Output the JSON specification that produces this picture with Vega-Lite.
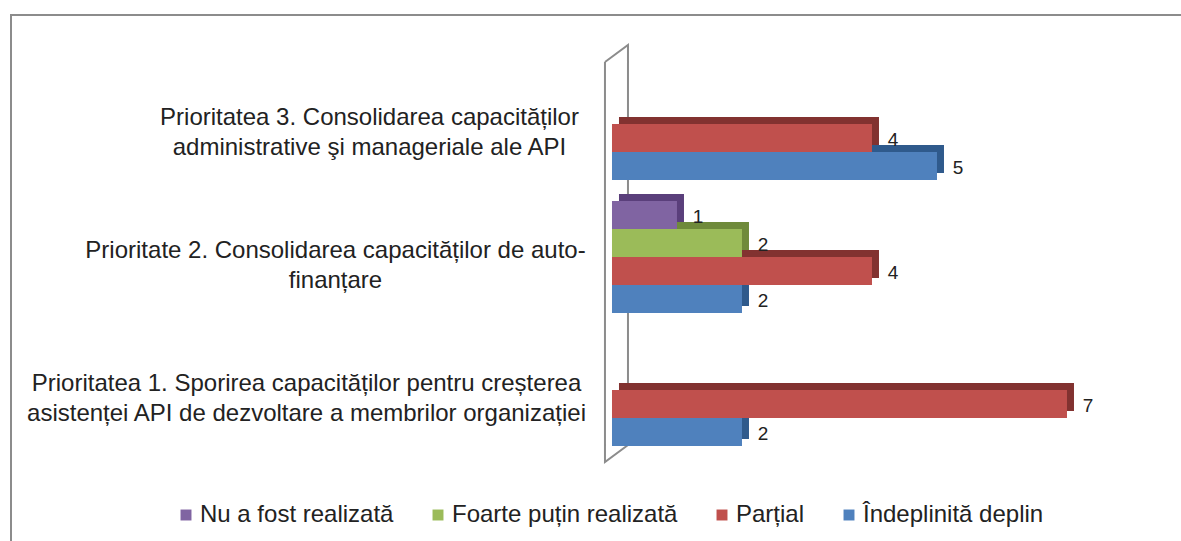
{
"$schema":"https://vega.github.io/schema/vega-lite/v6.json",
"width":1170,"height":526,
"autosize":{"type":"none"},
"padding":{"left":11,"top":15,"right":0,"bottom":0},
"background":"white",
"config":{"view":{"stroke":null},"text":{"font":"Liberation Sans"}},
"datasets":{
"bars":[
{"prioritate":"Prioritatea 3. Consolidarea capacităților\nadministrative şi manageriale ale API","status":"Parțial","n":4},
{"prioritate":"Prioritatea 3. Consolidarea capacităților\nadministrative şi manageriale ale API","status":"Îndeplinită deplin","n":5},
{"prioritate":"Prioritate 2. Consolidarea capacităților de auto-\nfinanțare","status":"Nu a fost realizată","n":1},
{"prioritate":"Prioritate 2. Consolidarea capacităților de auto-\nfinanțare","status":"Foarte puțin realizată","n":2},
{"prioritate":"Prioritate 2. Consolidarea capacităților de auto-\nfinanțare","status":"Parțial","n":4},
{"prioritate":"Prioritate 2. Consolidarea capacităților de auto-\nfinanțare","status":"Îndeplinită deplin","n":2},
{"prioritate":"Prioritatea 1. Sporirea capacităților pentru creșterea\nasistenței API de dezvoltare a membrilor organizației","status":"Parțial","n":7},
{"prioritate":"Prioritatea 1. Sporirea capacităților pentru creșterea\nasistenței API de dezvoltare a membrilor organizației","status":"Îndeplinită deplin","n":2}
],
"frame":[
{"part":"frame","k":1,"a":-9.246,"b":1},
{"part":"frame","k":2,"a":-9.246,"b":0},
{"part":"frame","k":3,"a":8.754,"b":0},
{"part":"wall","k":1,"a":-0.108,"b":0.0894},
{"part":"wall","k":2,"a":0.246,"b":0.057},
{"part":"wall","k":3,"a":0.246,"b":0.8175},
{"part":"wall","k":4,"a":-0.108,"b":0.8498},
{"part":"wall","k":5,"a":-0.108,"b":0.0894}
]},
"resolve":{"scale":{"y":"independent","color":"independent"}},
"layer":[
{"data":{"name":"frame"},
 "mark":{"type":"line","stroke":"#8c8c8c","strokeWidth":2,"clip":false},
 "encoding":{
  "x":{"field":"a","type":"quantitative","axis":null,"scale":{"domain":[-9.246,8.754],"nice":false,"zero":false}},
  "y":{"field":"b","type":"quantitative","axis":null,"scale":{"domain":[0,1],"reverse":true,"nice":false}},
  "detail":{"field":"part"},
  "order":{"field":"k"}}},
{"data":{"name":"bars"},
 "mark":{"type":"bar","xOffset":7,"x2Offset":7,"clip":false},
 "encoding":{
  "y":{"field":"prioritate","type":"nominal","axis":null,"scale":{"domain":["Prioritatea 3. Consolidarea capacităților\nadministrative şi manageriale ale API","Prioritate 2. Consolidarea capacităților de auto-\nfinanțare","Prioritatea 1. Sporirea capacităților pentru creșterea\nasistenței API de dezvoltare a membrilor organizației"],"range":[46,424],"paddingInner":0.158,"paddingOuter":0}},
  "yOffset":{"field":"status","type":"nominal","scale":{"domain":["Nu a fost realizată","Foarte puțin realizată","Parțial","Îndeplinită deplin"]}},
  "x":{"field":"n","type":"quantitative"},
  "color":{"field":"status","type":"nominal","legend":null,"scale":{"domain":["Nu a fost realizată","Foarte puțin realizată","Parțial","Îndeplinită deplin"],"range":["#5a3f7b","#6f8a3a","#823230","#2f5a8c"]}}}},
{"data":{"name":"bars"},
 "mark":{"type":"bar","clip":false},
 "encoding":{
  "y":{"field":"prioritate","type":"nominal","title":null,"sort":null,"axis":{"title":null,"domain":false,"ticks":false,"labelFont":"Liberation Sans","labelFontSize":24,"labelColor":"#222222","labelLimit":0,"labelPadding":-295,"labelAlign":"center","labelOffset":-6,"labelLineHeight":30,"labelExpr":"split(datum.label,'\\n')","encoding":{"labels":{"dx":{"value":{"expr":"indexof(datum.value,'Prioritatea 3')==0?63:indexof(datum.value,'Prioritate 2')==0?29:0"}}}}},"scale":{"domain":["Prioritatea 3. Consolidarea capacităților\nadministrative şi manageriale ale API","Prioritate 2. Consolidarea capacităților de auto-\nfinanțare","Prioritatea 1. Sporirea capacităților pentru creșterea\nasistenței API de dezvoltare a membrilor organizației"],"range":[53,431],"paddingInner":0.158,"paddingOuter":0}},
  "yOffset":{"field":"status","type":"nominal","scale":{"domain":["Nu a fost realizată","Foarte puțin realizată","Parțial","Îndeplinită deplin"]}},
  "x":{"field":"n","type":"quantitative"},
  "color":{"field":"status","type":"nominal","scale":{"domain":["Nu a fost realizată","Foarte puțin realizată","Parțial","Îndeplinită deplin"],"range":["#8064a2","#9bbb59","#c0504d","#4f81bd"]},
   "legend":{"title":null,"orient":"none","legendX":163,"legendY":488,"direction":"horizontal","columns":4,"columnPadding":32,"symbolType":"square","symbolSize":120,"symbolStrokeWidth":0,"symbolOpacity":1,"labelFont":"Liberation Sans","labelFontSize":24,"labelColor":"#222222","labelLimit":0,"labelOffset":2}}}},
{"data":{"name":"bars"},
 "mark":{"type":"text","dx":21,"dy":2,"align":"center","fontSize":19,"font":"Liberation Sans","color":"#222222","clip":false},
 "encoding":{
  "y":{"field":"prioritate","type":"nominal","axis":null,"scale":{"domain":["Prioritatea 3. Consolidarea capacităților\nadministrative şi manageriale ale API","Prioritate 2. Consolidarea capacităților de auto-\nfinanțare","Prioritatea 1. Sporirea capacităților pentru creșterea\nasistenței API de dezvoltare a membrilor organizației"],"range":[53,431],"paddingInner":0.158,"paddingOuter":0}},
  "yOffset":{"field":"status","type":"nominal","scale":{"domain":["Nu a fost realizată","Foarte puțin realizată","Parțial","Îndeplinită deplin"]}},
  "x":{"field":"n","type":"quantitative"},
  "text":{"field":"n","type":"quantitative"}}}
]}
